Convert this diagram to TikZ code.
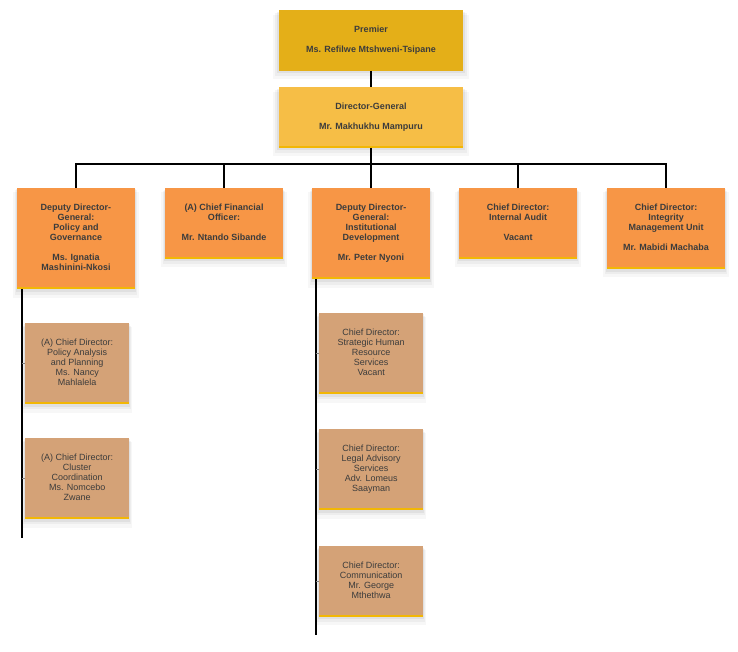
\documentclass[tikz,border=0pt]{standalone}
\usepackage{fontspec}
\setmainfont{Liberation Sans}
\usetikzlibrary{shadows}
\definecolor{premgold}{HTML}{E4AF18}
\definecolor{dggold}{HTML}{F6BE46}
\definecolor{deporange}{HTML}{F79646}
\definecolor{subtan}{HTML}{D4A277}
\definecolor{stripegold}{HTML}{F2B705}
\definecolor{txtgray}{HTML}{3C3C3C}
\tikzset{
 softshadow/.style={general shadow={fill=black,opacity=.05,shadow yshift=-2pt,shadow scale=1.02},
  general shadow={fill=black,opacity=.04,shadow yshift=-4pt,shadow scale=1.04},
  general shadow={fill=black,opacity=.03,shadow yshift=-6pt,shadow scale=1.06}},
 card/.style={minimum width=#1,inner xsep=2pt,inner ysep=15.5pt,align=center,text=txtgray,
  execute at begin node=\strut,execute at end node=\strut,softshadow},
 topbox/.style={card=184pt,font=\fontsize{9}{10}\selectfont\bfseries},
 midbox/.style={card=118pt,anchor=north,fill=deporange,font=\fontsize{9}{10}\selectfont\bfseries},
 subbox/.style={card=104pt,anchor=north west,fill=subtan,font=\fontsize{9}{10}\selectfont},
 link/.style={draw=black,line width=1.3pt},
 tick/.style={draw=gray,line width=1pt},
 stripe/.style={draw=stripegold,line width=2pt}
}
\begin{document}
\begin{tikzpicture}[x=1pt,y=-1pt]
 \useasboundingbox[fill=white] (0,0) rectangle (738,652);
 % top of the chart
 \node[topbox,fill=premgold] (premier) at (371,40.5) {Premier\\[10pt]Ms. Refilwe Mtshweni-Tsipane};
 \node[topbox,fill=dggold] (dg) at (371,117.5) {Director-General\\[10pt]Mr. Makhukhu Mampuru};
 % second row
 \node[midbox] (ddgpol) at (76,188) {Deputy Director-\\General:\\Policy and\\Governance\\[10pt]Ms. Ignatia\\Mashinini-Nkosi};
 \node[midbox] (cfo) at (224,188) {(A) Chief Financial\\Officer:\\[10pt]Mr. Ntando Sibande};
 \node[midbox] (ddginst) at (371,188) {Deputy Director-\\General:\\Institutional\\Development\\[10pt]Mr. Peter Nyoni};
 \node[midbox] (audit) at (518,188) {Chief Director:\\Internal Audit\\[10pt]Vacant};
 \node[midbox] (integrity) at (666,188) {Chief Director:\\Integrity\\Management Unit\\[10pt]Mr. Mabidi Machaba};
 % chief directorates
 \node[subbox] (polana) at (25,323) {(A) Chief Director:\\Policy Analysis\\and Planning\\Ms. Nancy\\Mahlalela};
 \node[subbox] (cluster) at (25,438) {(A) Chief Director:\\Cluster\\Coordination\\Ms. Nomcebo\\Zwane};
 \node[subbox] (hr) at (319,313) {Chief Director:\\Strategic Human\\Resource\\Services\\Vacant};
 \node[subbox] (legal) at (319,429) {Chief Director:\\Legal Advisory\\Services\\Adv. Lomeus\\Saayman};
 \node[subbox] (comms) at (319,546) {Chief Director:\\Communication\\Mr. George\\Mthethwa};
 \foreach \n in {dg,ddgpol,cfo,ddginst,audit,integrity,polana,cluster,hr,legal,comms}
  \draw[stripe] ([yshift=1pt]\n.south west) -- ([yshift=1pt]\n.south east);
 % lines
 \coordinate (bus) at (371,164);
 \coordinate (polend) at (22,538);
 \coordinate (instend) at (316,635);
 \draw[link] (premier) -- (dg);
 \draw[link] (dg) -- (bus);
 \foreach \n in {ddgpol,cfo,ddginst,audit,integrity}
  \draw[link] (bus) -| (\n.north);
 \draw[link] (ddgpol.south -| polend) -- (polend);
 \draw[link] (ddginst.south -| instend) -- (instend);
 \foreach \n in {polana,cluster}
  \draw[tick] (\n.west -| polend) -- (\n.west);
 \foreach \n in {hr,legal,comms}
  \draw[tick] (\n.west -| instend) -- (\n.west);
\end{tikzpicture}
\end{document}
